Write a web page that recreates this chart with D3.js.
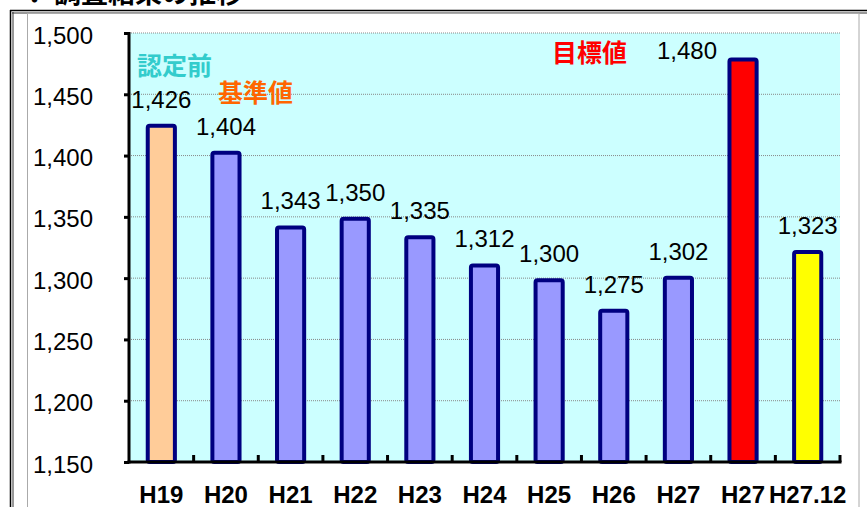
<!DOCTYPE html>
<html>
<head>
<meta charset="UTF-8">
<title></title>
<script src="https://cdn.jsdelivr.net/npm/d3@7"></script>
<style>
    body{
        padding: 0;
        margin: 0;
        background: #fff;
    }
    .axis text{
        font-family: "Liberation Sans", Arial, sans-serif;
        font-size: 24px;
        fill: #000;
    }
</style>
</head>
<body>
<script>

    var categories = ["H19","H20","H21","H22","H23","H24","H25","H26","H27","H27","H27.12"];
    var values = [1426,1404,1343,1350,1335,1312,1300,1275,1302,1480,1323];
    var barColors = ["#ffcc99","#9999ff","#9999ff","#9999ff","#9999ff","#9999ff","#9999ff","#9999ff","#9999ff","#ff0000","#ffff00"];
    var yTicks = [1150,1200,1250,1300,1350,1400,1450,1500];

    var W = 867, H = 507;
    var plotL = 129, plotR = 840, plotT = 33, plotB = 462;

    var svg = d3.select("body").append("svg")
        .attr("width", W)
        .attr("height", H);

    // 見出し(上が切れている)
    svg.append("text")
        .attr("x", 0)
        .attr("y", 3)
        .attr("font-family", "Noto Sans CJK JP")
        .attr("font-weight", "bold")
        .attr("font-size", 27)
        .text("－．調査結果の推移");

    // 外枠
    svg.append("rect").attr("x",0).attr("y",10).attr("width",W).attr("height",H).attr("fill","#fff");
    svg.append("line").attr("x1",10).attr("x2",W).attr("y1",10.5).attr("y2",10.5).attr("stroke","#000").attr("stroke-width",1.5);
    svg.append("line").attr("x1",12).attr("x2",W).attr("y1",13).attr("y2",13).attr("stroke","#333").attr("stroke-width",1);
    svg.append("line").attr("x1",10.5).attr("x2",10.5).attr("y1",10).attr("y2",H).attr("stroke","#000").attr("stroke-width",1.5);
    svg.append("line").attr("x1",13).attr("x2",13).attr("y1",12).attr("y2",H).attr("stroke","#333").attr("stroke-width",1);
    svg.append("rect")
        .attr("x",27.5).attr("y",13.5)
        .attr("width",859-27.5).attr("height",H)
        .attr("fill","none").attr("stroke","#aaa").attr("stroke-width",1);

    var x = d3.scaleBand()
        .domain(d3.range(categories.length))
        .range([plotL, plotR]);

    var y = d3.scaleLinear()
        .domain([1150, 1500])
        .range([plotB, plotT]);

    // 背景
    svg.append("rect")
        .attr("x", plotL).attr("y", plotT)
        .attr("width", plotR - plotL).attr("height", plotB - plotT)
        .attr("fill", "#ccffff");

    // グリッド線
    svg.selectAll(".grid")
        .data(yTicks.slice(1))
        .enter()
        .append("line")
        .attr("class","grid")
        .attr("x1", plotL).attr("x2", plotR)
        .attr("y1", function(d){ return y(d); })
        .attr("y2", function(d){ return y(d); })
        .attr("stroke", "#888")
        .attr("stroke-width", 1)
        .attr("stroke-dasharray", "1,1");

    // 棒
    var bw = x.bandwidth() * 0.42;
    svg.selectAll(".bar")
        .data(values)
        .enter()
        .append("rect")
        .attr("class","bar")
        .attr("x", function(d,i){ return x(i) + x.bandwidth()/2 - bw/2; })
        .attr("y", function(d){ return y(d) + 2; })
        .attr("width", bw)
        .attr("height", function(d){ return plotB - y(d) - 2; })
        .attr("rx", 2)
        .attr("fill", function(d,i){ return barColors[i]; })
        .attr("stroke", "#000080")
        .attr("stroke-width", 4);

    // 値ラベル
    svg.selectAll(".val")
        .data(values)
        .enter()
        .append("text")
        .attr("class","val")
        .attr("x", function(d,i){
            var cx = x(i) + x.bandwidth()/2;
            return i === 9 ? cx - 56 : cx;
        })
        .attr("y", function(d,i){ return i === 9 ? y(d) + 1 : y(d) - 16; })
        .attr("text-anchor","middle")
        .attr("font-family","Liberation Sans, Arial, sans-serif")
        .attr("font-size", 24)
        .text(function(d){ return d3.format(",")(d); });

    // Y軸
    var yAxis = d3.axisLeft(y)
        .tickValues(yTicks)
        .tickSize(5)
        .tickPadding(31)
        .tickFormat(d3.format(","));
    var gy = svg.append("g")
        .attr("class","axis")
        .attr("transform","translate(" + plotL + ",0)")
        .call(yAxis);
    gy.select(".domain").remove();
    gy.selectAll("line").attr("stroke","#000").attr("stroke-width",3);
    gy.selectAll("text").attr("dy","0.42em");
    svg.append("line")
        .attr("x1", plotL).attr("x2", plotL)
        .attr("y1", plotT - 1).attr("y2", plotB + 1.5)
        .attr("stroke","#000").attr("stroke-width",3);

    // X軸
    svg.append("line")
        .attr("x1", plotL - 1.5).attr("x2", plotR + 1.5)
        .attr("y1", plotB).attr("y2", plotB)
        .attr("stroke","#000").attr("stroke-width",3);
    svg.selectAll(".xtick")
        .data(d3.range(1, categories.length + 1))
        .enter()
        .append("line")
        .attr("class","xtick")
        .attr("x1", function(i){ return plotL + i * x.step(); })
        .attr("x2", function(i){ return plotL + i * x.step(); })
        .attr("y1", plotB).attr("y2", plotB - 7)
        .attr("stroke","#000").attr("stroke-width",3);
    svg.selectAll(".xlab")
        .data(categories)
        .enter()
        .append("text")
        .attr("class","xlab")
        .attr("x", function(d,i){ return x(i) + x.bandwidth()/2; })
        .attr("y", 503)
        .attr("text-anchor","middle")
        .attr("font-family","Liberation Sans, Arial, sans-serif")
        .attr("font-size", 24)
        .attr("font-weight", "bold")
        .text(function(d){ return d; });

    // 注記
    var notes = [
        {t:"認定前", c:"#33cccc", x:137, y:75},
        {t:"基準値", c:"#ff6600", x:218, y:102},
        {t:"目標値", c:"#ff0000", x:552, y:62}
    ];
    svg.selectAll(".note")
        .data(notes)
        .enter()
        .append("text")
        .attr("class","note")
        .attr("x", function(d){ return d.x; })
        .attr("y", function(d){ return d.y; })
        .attr("fill", function(d){ return d.c; })
        .attr("font-family","Noto Sans CJK JP")
        .attr("font-weight","bold")
        .attr("font-size", 25)
        .text(function(d){ return d.t; });

</script>
</body>
</html>
